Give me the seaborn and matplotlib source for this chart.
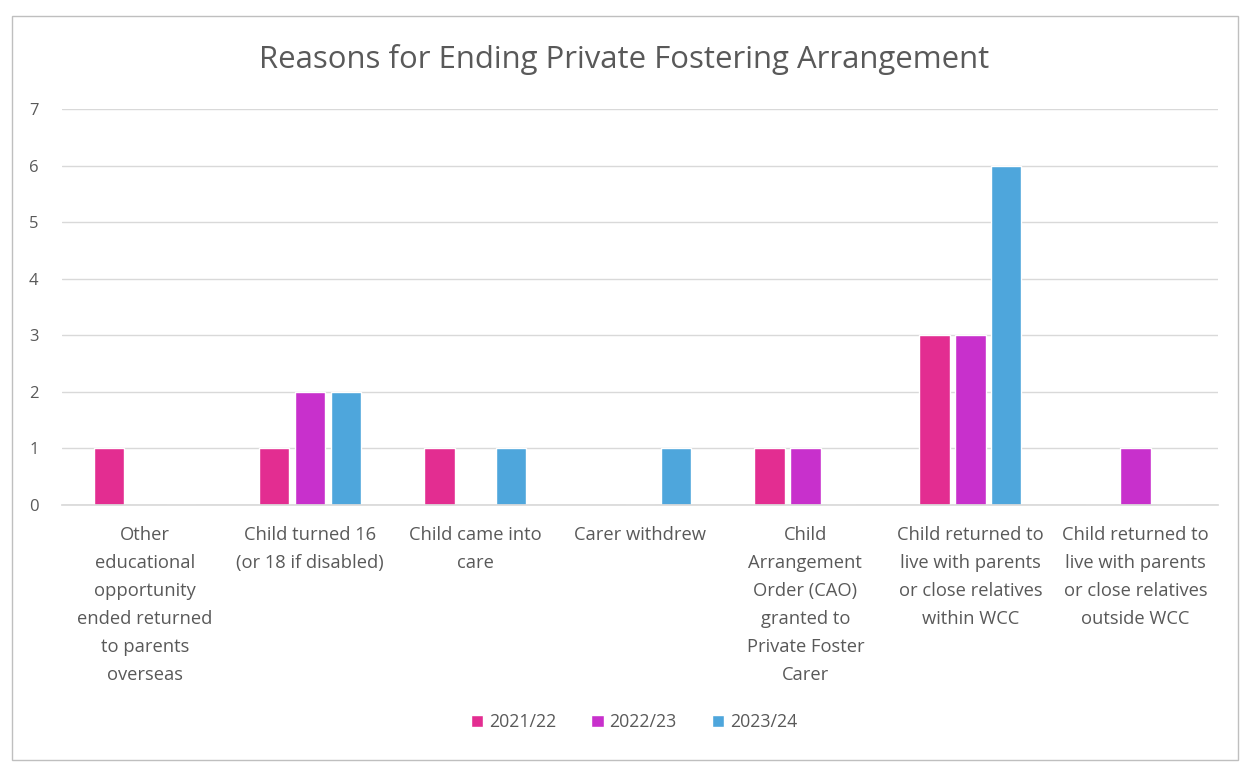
import matplotlib
matplotlib.use("Agg")
import matplotlib.pyplot as plt
from matplotlib.patches import Rectangle
import pandas as pd
import seaborn as sns

# chart data
categories = [
    "Other\neducational\nopportunity\nended returned\nto parents\noverseas",
    "Child turned 16\n(or 18 if disabled)",
    "Child came into\ncare",
    "Carer withdrew",
    "Child\nArrangement\nOrder (CAO)\ngranted to\nPrivate Foster\nCarer",
    "Child returned to\nlive with parents\nor close relatives\nwithin WCC",
    "Child returned to\nlive with parents\nor close relatives\noutside WCC",
]
years = ["2021/22", "2022/23", "2023/24"]
values_2021 = [1, 1, 1, 0, 1, 3, 0]
values_2022 = [0, 2, 0, 0, 1, 3, 1]
values_2023 = [0, 2, 1, 1, 0, 6, 0]
colors = ["#E32D91", "#C830CC", "#4EA6DC"]

rows = []
for year, vals in zip(years, [values_2021, values_2022, values_2023]):
    for cat, v in zip(categories, vals):
        rows.append({"reason": cat, "year": year, "count": v})
df = pd.DataFrame(rows)

sns.set_theme(style="white")
plt.rcParams["font.family"] = ["Open Sans", "DejaVu Sans"]
text_color = "#595959"

fig = plt.figure(figsize=(12.48, 7.65), dpi=100)
ax = fig.add_axes([0.05, 0.34, 0.926, 0.517])

sns.barplot(data=df, x="reason", y="count", hue="year", palette=colors,
            saturation=1, width=0.65, gap=0.15, ax=ax, legend=True)

ax.set_ylim(0, 7)
ax.set_yticks(range(0, 8))
ax.yaxis.grid(True, color="#D9D9D9", linewidth=1)
ax.set_axisbelow(True)
for side in ["top", "right", "left"]:
    ax.spines[side].set_visible(False)
ax.spines["bottom"].set_color("#D9D9D9")
ax.tick_params(axis="x", length=0, colors=text_color, labelsize=13.2, pad=15)
ax.tick_params(axis="y", length=0, colors=text_color, labelsize=12, pad=24)
ax.set_xlabel("")
ax.set_ylabel("")
for lbl in ax.get_xticklabels():
    lbl.set_linespacing(1.72)
    lbl.set_verticalalignment("top")
for lbl in ax.get_yticklabels():
    lbl.set_horizontalalignment("left")

fig.suptitle("Reasons for Ending Private Fostering Arrangement", y=0.942,
             fontsize=22.4, color=text_color)

handles, labels = ax.get_legend_handles_labels()
ax.legend(handles, labels, loc="center", bbox_to_anchor=(0.508, 0.056),
          bbox_transform=fig.transFigure, ncol=3, frameon=False,
          handlelength=0.7, handleheight=0.7, handletextpad=0.3,
          columnspacing=2.0, fontsize=12.8, labelcolor=text_color)

# outer chart border
fig.patches.append(Rectangle((0.01, 0.007), 0.982, 0.972, transform=fig.transFigure,
                             fill=False, edgecolor="#BFBFBF", linewidth=1))

fig.savefig("out.png", dpi=100, facecolor="white")
